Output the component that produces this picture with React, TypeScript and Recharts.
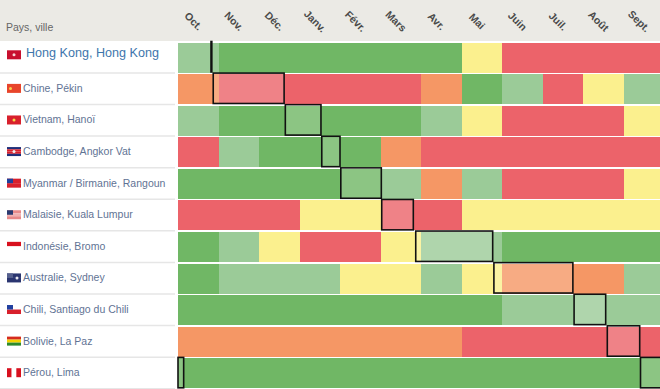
import React from "react";
import { BarChart, Bar, Cell, XAxis, YAxis, ReferenceArea } from "recharts";

const months = ["Oct.", "Nov.", "Déc.", "Janv.", "Févr.", "Mars", "Avr.", "Mai", "Juin", "Juil.", "Août", "Sept."];
const places = [
  "Hong Kong, Hong Kong", "Chine, Pékin", "Vietnam, Hanoï", "Cambodge, Angkor Vat",
  "Myanmar / Birmanie, Rangoun", "Malaisie, Kuala Lumpur", "Indonésie, Bromo", "Australie, Sydney",
  "Chili, Santiago du Chili", "Bolivie, La Paz", "Pérou, Lima",
];
// G good, L fair, Y average, O poor, R bad
const ratings = [
  "LGGGGGGYRRRR",
  "ORRRRROGLRYL",
  "LGGGGGLYRRRY",
  "RLGGGORRRRRR",
  "GGGGGLOLRRRY",
  "RRRYYRRYYYYY",
  "GLYRRYLLGGGG",
  "GLLLYYLYOOOL",
  "GGGGGGGGLLLL",
  "OOOOOOORRRRR",
  "GGGGGGGGGGGG",
];
const ratingColors: Record<string, string> = { G: "#70B765", L: "#9BCB98", Y: "#FBF08E", O: "#F59765", R: "#EC636A" };

// Trip periods: [row, start, end] in month units from the start of October
const periods: [number, number, number][] = [
  [0, 0.815, 0.835],
  [1, 0.87, 2.62],
  [2, 2.65, 3.53],
  [3, 3.55, 4.0],
  [4, 4.02, 5.02],
  [5, 5.03, 5.81],
  [6, 5.87, 7.77],
  [7, 7.8, 9.75],
  [8, 9.78, 10.56],
  [9, 10.6, 11.4],
  [10, 11.42, 12],
  [10, 0, 0.14],
];

const flags: { stripes: string[]; canton?: string; vertical?: boolean; mark?: string; markX?: number }[] = [
  { stripes: ["#C8102E"], mark: "#F6D6D6", markX: 7 },
  { stripes: ["#E8452B"], mark: "#F8D24A", markX: 3.5 },
  { stripes: ["#D8202C"], mark: "#F6D84A", markX: 7 },
  { stripes: ["#1F2F7A", "#D8202C", "#D8202C", "#1F2F7A"], mark: "#F0F0F0", markX: 7 },
  { stripes: ["#D8202C", "#D8202C"], canton: "#1F3F9A" },
  { stripes: ["#E88A8A", "#F0B0B0", "#E88A8A"], canton: "#2A3A70" },
  { stripes: ["#D8101E", "#FFFFFF"] },
  { stripes: ["#2A3570", "#2A3570"], canton: "#55608E", mark: "#E8E8F0", markX: 10 },
  { stripes: ["#FFFFFF", "#D8202C"], canton: "#2040A0" },
  { stripes: ["#D52B1E", "#F4D400", "#2E8B2E"] },
  { stripes: ["#D8101E", "#FFFFFF", "#D8101E"], vertical: true },
];

const data = places.map((name) => {
  const row: Record<string, string | number> = { name };
  months.forEach((_, i) => { row[`m${i}`] = 1; });
  return row;
});

const monthTicks = months.map((_, i) => i + 0.5);

const MonthTick = (props: any) => {
  const { x, payload } = props;
  const label = months[payload.value - 0.5];
  const cx = x - 4.5;
  return (
    <text x={cx} y={21} dy={4} textAnchor="middle" transform={`rotate(45 ${cx} 21)`}
      fontFamily="Liberation Sans, Arial, sans-serif" fontSize={10.5} fontWeight={700} fill="#4A4A4A">
      {label}
    </text>
  );
};

const PlaceTick = (props: any) => {
  const { y, payload, index } = props;
  const first = index === 0;
  const f = flags[index] ?? flags[0];
  const cy = first ? y - 2 : y;
  const fx = 7, fw = 14, fh = 9, fy = cy - 5;
  return (
    <g>
      {f.stripes.map((c, i) =>
        f.vertical ? (
          <rect key={i} x={fx + (i * fw) / f.stripes.length} y={fy} width={fw / f.stripes.length} height={fh} fill={c} />
        ) : (
          <rect key={i} x={fx} y={fy + (i * fh) / f.stripes.length} width={fw} height={fh / f.stripes.length} fill={c} />
        )
      )}
      {f.canton ? <rect x={fx} y={fy} width={6} height={4.5} fill={f.canton} /> : null}
      {f.mark ? <circle cx={fx + (f.markX ?? 7)} cy={fy + fh / 2} r={1.5} fill={f.mark} /> : null}
      <text x={first ? 26 : 23} y={first ? cy + 2 : cy + 3} fontFamily="Liberation Sans, Arial, sans-serif"
        fontSize={first ? 12.6 : 10.5} fill={first ? "#3E76AC" : "#5F7394"}>
        {payload.value}
      </text>
      <line x1={0} x2={175} y1={y + 15.6} y2={y + 15.6} stroke="#E6E6E6" strokeWidth={1.5} />
    </g>
  );
};

const PeriodBox = (props: any) => (
  <rect x={props.x} y={props.y} width={props.width} height={30.4}
    fill="#fff" fillOpacity={0.2} stroke="#111" strokeWidth={1.6} />
);

const RefArea: any = ReferenceArea;

export default function App() {
  return (
    <div style={{ position: "absolute", left: 0, top: 0, width: 660, height: 389, overflow: "hidden", background: "#fff" }}>
      <div style={{ position: "absolute", left: 0, top: 0, width: 660, height: 41, background: "#EBEAE5" }} />
      <div style={{ position: "absolute", left: 6, top: 21, fontFamily: "Liberation Sans, Arial, sans-serif", fontSize: 10.5, color: "#666" }}>
        Pays, ville
      </div>
      <div style={{ position: "absolute", left: 0, top: 0 }}>
        <BarChart width={664} height={389} layout="vertical" data={data} barCategoryGap={1}
          margin={{ top: 0, right: 0, bottom: 0, left: 0 }}>
          <XAxis type="number" orientation="top" height={41.5} domain={[0, 12]} ticks={monthTicks} interval={0}
            axisLine={false} tickLine={false} tick={<MonthTick />} />
          <YAxis type="category" dataKey="name" width={178} interval={0} axisLine={false} tickLine={false} tick={<PlaceTick />} />
          {months.map((_, i) => (
            <Bar key={i} dataKey={`m${i}`} stackId="a" isAnimationActive={false} shapeRendering="crispEdges">
              {ratings.map((r, k) => (
                <Cell key={k} fill={ratingColors[r[i]]} shapeRendering="crispEdges" />
              ))}
            </Bar>
          ))}
          {periods.map(([r, a, b], i) => (
            <RefArea key={i} y1={places[r]} y2={places[r]} x1={a} x2={b} ifOverflow="visible" zIndex={900}
              shape={<PeriodBox />} />
          ))}
        </BarChart>
      </div>
    </div>
  );
}
